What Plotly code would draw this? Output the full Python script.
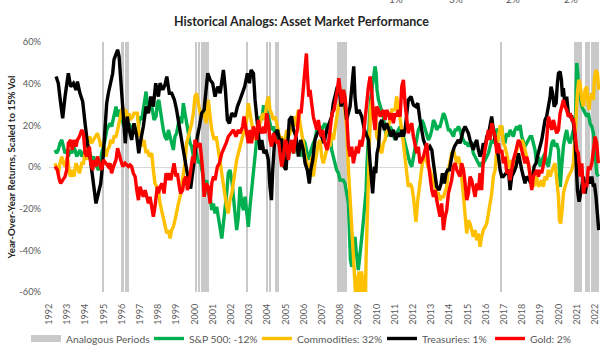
import numpy as np
import pandas as pd
import plotly.graph_objects as go

# ---------------- data (decimal years, % values) ----------------
tsy_years = [1992.39,1992.51,1992.64,1992.75,1992.88,1993.06,1993.19,1993.34,1993.48,1993.56,1993.70,1993.85,1993.98,
 1994.11,1994.25,1994.38,1994.49,1994.58,1994.71,1994.84,1994.95,1995.04,1995.17,1995.26,1995.39,1995.50,1995.57,1995.68,
 1995.77,1995.85,1995.94,1996.03,1996.12,1996.19,1996.30,1996.41,1996.54,1996.67,1996.82,1996.93,1997.04,1997.18,1997.33,
 1997.46,1997.59,1997.73,1997.86,1998.01,1998.10,1998.25,1998.37,1998.47,1998.61,1998.74,1998.89,1999.01,1999.16,1999.29,
 1999.42,1999.56,1999.69,1999.78,1999.89,2000.02,2000.15,2000.26,2000.39,2000.52,2000.63,2000.72,2000.85,2000.99,2001.12,
 2001.27,2001.40,2001.58,2001.69,2001.80,2001.91,2002.04,2002.22,2002.35,2002.49,2002.64,2002.75,2002.90,2003.01,2003.10,
 2003.23,2003.32,2003.41,2003.50,2003.59,2003.69,2003.81,2003.92,2004.05,2004.14,2004.22,2004.29,2004.42,2004.55,2004.66,
 2004.78,2004.91,2005.02,2005.11,2005.20,2005.33,2005.43,2005.57,2005.70,2005.83,2005.97,2006.07,2006.19,2006.30,2006.38,
 2006.49,2006.61,2006.74,2006.89,2006.98,2007.11,2007.26,2007.40,2007.53,2007.62,2007.77,2007.84,2007.95,2008.05,2008.17,
 2008.35,2008.54,2008.67,2008.74,2008.81,2008.90,2009.03,2009.18,2009.33,2009.45,2009.55,2009.64,2009.73,2009.78,2009.88,
 2009.95,2010.02,2010.10,2010.19,2010.28,2010.42,2010.55,2010.68,2010.79,2010.92,2011.05,2011.16,2011.29,2011.38,2011.47,
 2011.56,2011.65,2011.74,2011.89,2012.02,2012.15,2012.26,2012.38,2012.48,2012.57,2012.70,2012.81,2012.93,2013.03,2013.12,
 2013.21,2013.30,2013.43,2013.54,2013.61,2013.72,2013.81,2013.90,2014.00,2014.09,2014.16,2014.27,2014.40,2014.49,2014.58,
 2014.67,2014.77,2014.86,2014.95,2015.04,2015.13,2015.22,2015.31,2015.41,2015.50,2015.59,2015.68,2015.77,2015.86,2015.96,
 2016.05,2016.19,2016.32,2016.41,2016.56,2016.69,2016.78,2016.87,2016.96,2017.11,2017.24,2017.33,2017.42,2017.51,2017.66,
 2017.79,2017.88,2017.97,2018.06,2018.15,2018.24,2018.39,2018.46,2018.57,2018.65,2018.76,2018.83,2018.94,2019.07,2019.16,
 2019.25,2019.34,2019.44,2019.53,2019.58,2019.67,2019.75,2019.86,2019.93,2019.99,2020.08,2020.15,2020.21,2020.26,2020.35,
 2020.44,2020.53,2020.63,2020.72,2020.81,2020.90,2020.96,2021.03,2021.12,2021.18,2021.27,2021.36,2021.45,2021.54,2021.63,
 2021.72,2021.82,2021.91,2021.96,2022.05,2022.13,2022.20]
tsy_vals = [43.4,40.2,30.6,23.4,33.8,45.0,38.6,40.2,37.0,41.0,35.4,31.4,21.0,
 11.4,5.0,-4.6,-12.7,-17.5,-12.7,-7.9,1.8,13.0,30.6,35.4,41.8,45.0,51.5,53.9,
 56.3,53.1,41.8,30.6,17.8,11.4,24.2,17.8,13.0,21.0,14.6,6.6,13.0,19.4,29.0,
 25.8,33.8,29.0,40.2,33.8,40.2,37.0,39.4,43.4,35.4,35.4,32.2,27.4,19.4,13.0,
 5.0,-1.4,-7.9,-10.3,-3.0,6.6,14.6,19.4,25.8,27.4,38.6,45.0,41.8,40.2,33.8,
 38.6,35.4,46.6,37.0,22.6,21.0,25.8,24.2,29.0,32.2,35.4,38.6,45.0,40.2,46.6,
 45.0,32.2,24.2,14.6,8.2,13.0,6.6,8.2,3.4,-9.5,-15.9,-1.4,16.2,17.8,13.0,
 13.0,0.2,-1.4,13.0,22.6,24.2,17.8,14.6,5.0,13.0,8.2,1.8,-1.4,-7.9,-1.4,
 3.4,13.0,16.2,17.8,14.6,11.4,17.8,21.0,24.2,30.6,35.4,38.6,37.0,29.0,37.0,
 22.6,29.0,45.0,48.3,33.8,25.8,27.4,24.2,17.8,14.6,13.0,1.8,-9.5,-12.7,0.2,
 -3.0,6.6,9.8,21.0,22.6,17.8,21.0,17.8,14.6,17.8,13.0,16.2,14.6,17.8,14.6,
 17.8,24.2,32.2,33.8,29.8,29.0,30.6,22.6,17.8,13.0,9.8,8.2,9.8,8.2,1.8,
 -4.6,-9.5,-11.1,-7.9,-3.0,-7.9,-3.0,-1.4,-1.4,3.4,6.6,9.8,11.4,13.0,11.4,
 14.6,17.8,19.4,17.8,16.2,13.0,9.8,8.2,11.4,13.0,8.2,5.0,6.6,11.4,9.8,
 14.6,17.8,24.2,17.8,11.4,5.0,-1.4,-4.6,-4.6,-3.0,-1.4,-11.1,-4.6,-3.0,0.2,
 6.6,1.8,-1.4,-4.6,-7.9,-4.6,-6.3,-7.9,-4.6,0.2,1.8,5.0,8.2,13.0,17.8,
 22.6,24.2,29.0,33.8,38.6,35.4,29.0,30.6,40.2,45.0,45.8,41.8,33.8,37.8,29.0,
 33.8,25.8,24.2,24.2,21.0,13.0,-1.4,-11.1,-16.7,-14.3,-9.5,-4.6,-12.7,-7.9,-4.6,
 -7.9,-4.6,-9.5,-7.9,-14.3,-23.9,-30.3]

gold_years = [1992.33,1992.46,1992.57,1992.64,1992.75,1992.88,1992.97,1993.06,1993.19,1993.28,1993.37,1993.48,1993.56,
 1993.67,1993.80,1993.89,1993.98,1994.07,1994.22,1994.29,1994.40,1994.47,1994.58,1994.66,1994.77,1994.89,1994.99,1995.13,
 1995.26,1995.35,1995.44,1995.54,1995.68,1995.77,1995.86,1995.94,1996.05,1996.18,1996.27,1996.36,1996.45,1996.54,1996.63,
 1996.73,1996.82,1996.91,1997.00,1997.09,1997.18,1997.28,1997.37,1997.46,1997.55,1997.64,1997.73,1997.82,1997.95,1998.01,
 1998.10,1998.21,1998.32,1998.43,1998.52,1998.61,1998.69,1998.80,1998.87,1998.98,1999.05,1999.16,1999.23,1999.34,1999.42,
 1999.53,1999.60,1999.71,1999.78,1999.89,1999.97,2000.02,2000.15,2000.30,2000.44,2000.52,2000.63,2000.75,2000.85,2000.94,
 2001.03,2001.12,2001.25,2001.36,2001.49,2001.58,2001.73,2001.85,2001.98,2002.13,2002.27,2002.40,2002.49,2002.64,2002.71,
 2002.82,2002.95,2003.04,2003.13,2003.23,2003.32,2003.41,2003.50,2003.59,2003.69,2003.78,2003.87,2003.96,2004.05,2004.14,
 2004.23,2004.33,2004.42,2004.51,2004.60,2004.69,2004.78,2004.88,2004.97,2005.06,2005.15,2005.24,2005.33,2005.43,2005.52,
 2005.64,2005.75,2005.85,2005.94,2006.01,2006.07,2006.14,2006.19,2006.27,2006.34,2006.43,2006.52,2006.61,2006.71,2006.80,
 2006.93,2007.04,2007.11,2007.22,2007.29,2007.40,2007.48,2007.55,2007.66,2007.77,2007.84,2007.92,2008.08,2008.17,2008.26,
 2008.36,2008.45,2008.54,2008.63,2008.72,2008.81,2008.90,2008.99,2009.09,2009.18,2009.27,2009.36,2009.45,2009.55,2009.64,
 2009.73,2009.82,2009.91,2010.00,2010.10,2010.19,2010.28,2010.37,2010.46,2010.55,2010.64,2010.74,2010.83,2010.92,2011.01,
 2011.10,2011.19,2011.29,2011.38,2011.47,2011.56,2011.65,2011.74,2011.83,2011.93,2012.02,2012.11,2012.20,2012.29,2012.38,
 2012.48,2012.57,2012.66,2012.75,2012.84,2012.93,2013.03,2013.12,2013.21,2013.30,2013.39,2013.48,2013.57,2013.67,2013.76,
 2013.85,2013.94,2014.03,2014.12,2014.22,2014.31,2014.40,2014.49,2014.58,2014.67,2014.77,2014.86,2014.95,2015.04,2015.13,
 2015.22,2015.31,2015.41,2015.50,2015.59,2015.68,2015.77,2015.86,2015.96,2016.05,2016.14,2016.23,2016.32,2016.41,2016.51,
 2016.60,2016.69,2016.78,2016.87,2016.96,2017.05,2017.15,2017.24,2017.33,2017.42,2017.51,2017.66,2017.79,2017.88,2017.97,
 2018.06,2018.15,2018.24,2018.34,2018.43,2018.52,2018.61,2018.70,2018.79,2018.89,2018.98,2019.07,2019.16,2019.25,2019.34,
 2019.44,2019.53,2019.62,2019.71,2019.80,2019.89,2019.99,2020.08,2020.17,2020.26,2020.35,2020.44,2020.53,2020.63,2020.72,
 2020.81,2020.90,2020.99,2021.08,2021.18,2021.27,2021.36,2021.45,2021.54,2021.63,2021.72,2021.82,2021.91,2022.00,2022.09,
 2022.18]
gold_vals = [0.2,-1.4,-6.3,-7.9,-6.3,-4.6,-1.4,11.4,13.0,8.2,13.0,9.8,13.0,
 14.6,17.8,16.2,6.6,5.0,9.8,1.8,-1.4,3.4,0.2,5.0,1.8,-1.4,3.4,1.8,
 0.2,1.8,-3.0,0.2,3.4,9.0,5.0,3.4,0.2,1.8,1.0,0.2,1.0,0.2,-3.0,
 -4.6,-11.1,-15.9,-9.5,-12.7,-14.3,-11.1,-14.3,-17.5,-14.3,-20.7,-23.9,-19.1,-9.5,-12.7,
 -9.5,-7.9,-12.7,-3.0,-6.3,-3.0,-6.3,-1.4,1.8,-4.6,-3.0,-9.5,-12.7,-11.1,-6.3,
 -4.6,-11.1,-6.3,-1.4,5.0,1.8,13.0,9.8,11.4,-1.4,-14.3,-7.9,-9.5,-17.5,-7.9,
 -4.6,-6.3,0.2,1.8,6.6,8.2,11.4,14.6,16.2,17.8,14.6,17.8,16.2,19.4,24.2,
 17.8,11.4,17.8,11.4,19.4,17.8,13.0,22.6,17.8,16.2,19.4,16.2,25.8,21.0,13.0,
 9.8,16.2,13.0,11.4,13.0,5.0,0.2,5.0,13.0,11.4,3.4,9.8,13.0,6.6,13.0,
 17.8,27.4,25.8,33.8,40.2,46.6,54.5,45.0,33.8,37.0,29.0,24.2,21.0,17.8,22.6,
 14.6,17.8,13.0,9.8,8.2,14.6,19.4,25.8,27.4,32.2,37.0,42.6,30.6,37.0,33.8,
 24.2,9.8,5.0,9.8,1.8,5.0,9.8,6.6,13.0,9.8,14.6,22.6,32.2,38.6,43.4,
 37.0,24.2,17.8,29.0,27.4,24.2,25.8,27.4,22.6,27.4,25.8,22.6,25.8,21.0,25.8,
 24.2,27.4,24.2,38.6,41.8,30.6,24.2,16.2,19.4,21.0,14.6,9.8,6.6,9.8,1.8,
 3.4,5.0,8.2,11.4,1.8,-6.3,-11.1,-14.3,-11.1,-15.9,-20.7,-23.9,-17.5,-30.3,-23.9,
 -20.7,-12.7,-9.5,-6.3,0.2,1.8,-1.4,-3.0,-4.6,1.8,-1.4,-7.9,-15.9,-12.7,-4.6,
 -6.3,-11.1,-14.3,-7.9,-11.1,-3.0,-11.1,3.4,8.2,11.4,17.8,13.0,21.0,17.8,14.6,
 6.6,11.4,6.6,8.2,1.8,5.0,-3.0,-1.4,-6.3,-1.4,3.4,8.2,13.0,11.4,8.2,
 3.4,1.8,5.0,1.8,-4.6,-11.1,-4.6,-3.0,-1.4,-4.6,-1.4,-3.0,0.2,5.0,13.0,
 24.2,21.0,17.8,22.6,19.4,16.2,17.8,25.8,29.0,32.2,29.0,27.4,24.2,25.8,22.6,
 22.6,16.2,8.2,6.6,-4.6,1.8,-12.7,-7.9,-9.5,0.2,-1.4,1.8,8.2,14.6,11.4,
 1.8]

cmdty_years = [1992.33,1992.42,1992.51,1992.60,1992.70,1992.79,1992.88,1993.01,1993.12,1993.19,1993.28,1993.37,1993.48,
 1993.56,1993.67,1993.80,1993.89,1993.98,1994.07,1994.16,1994.25,1994.34,1994.44,1994.53,1994.66,1994.77,1994.84,1994.95,
 1995.02,1995.13,1995.21,1995.32,1995.39,1995.50,1995.57,1995.68,1995.77,1995.86,1995.96,1996.05,1996.12,1996.23,1996.30,
 1996.41,1996.45,1996.60,1996.67,1996.78,1996.85,1996.96,1997.04,1997.15,1997.22,1997.33,1997.40,1997.51,1997.64,1997.73,
 1997.82,1997.92,1998.01,1998.10,1998.19,1998.28,1998.37,1998.47,1998.56,1998.65,1998.74,1998.83,1998.92,1999.01,1999.11,
 1999.20,1999.29,1999.38,1999.47,1999.56,1999.66,1999.75,1999.84,1999.93,2000.02,2000.11,2000.21,2000.30,2000.39,2000.48,
 2000.63,2000.75,2000.85,2000.94,2001.07,2001.18,2001.30,2001.40,2001.49,2001.58,2001.67,2001.76,2001.85,2001.94,2002.04,
 2002.13,2002.22,2002.31,2002.40,2002.49,2002.59,2002.68,2002.77,2002.86,2002.95,2003.04,2003.13,2003.23,2003.32,2003.41,
 2003.50,2003.59,2003.69,2003.78,2003.87,2003.96,2004.05,2004.14,2004.23,2004.33,2004.42,2004.51,2004.60,2004.69,2004.78,
 2004.88,2004.97,2005.06,2005.15,2005.24,2005.33,2005.43,2005.52,2005.61,2005.70,2005.79,2005.88,2005.97,2006.07,2006.16,
 2006.25,2006.34,2006.43,2006.52,2006.61,2006.71,2006.80,2006.89,2006.98,2007.07,2007.16,2007.26,2007.35,2007.44,2007.53,
 2007.62,2007.71,2007.80,2007.90,2007.99,2008.08,2008.17,2008.26,2008.36,2008.45,2008.54,2008.63,2008.72,2008.81,2008.87,
 2008.90,2008.94,2008.98,2009.02,2009.06,2009.10,2009.14,2009.18,2009.22,2009.26,2009.30,2009.34,2009.38,2009.42,2009.49,
 2009.55,2009.60,2009.66,2009.73,2009.82,2009.91,2010.00,2010.10,2010.19,2010.28,2010.37,2010.46,2010.55,2010.64,2010.74,
 2010.83,2010.92,2011.01,2011.10,2011.19,2011.29,2011.38,2011.47,2011.56,2011.65,2011.74,2011.83,2011.93,2012.02,2012.11,
 2012.16,2012.26,2012.33,2012.44,2012.51,2012.62,2012.70,2012.81,2012.93,2013.03,2013.12,2013.21,2013.30,2013.39,2013.48,
 2013.57,2013.67,2013.76,2013.85,2013.94,2014.03,2014.12,2014.22,2014.31,2014.40,2014.49,2014.58,2014.67,2014.77,2014.86,
 2014.95,2015.04,2015.13,2015.22,2015.31,2015.41,2015.50,2015.59,2015.68,2015.77,2015.86,2015.96,2016.05,2016.14,2016.23,
 2016.32,2016.41,2016.51,2016.60,2016.69,2016.78,2016.87,2016.96,2017.05,2017.15,2017.24,2017.33,2017.42,2017.51,2017.60,
 2017.70,2017.79,2017.88,2017.97,2018.06,2018.15,2018.24,2018.34,2018.43,2018.52,2018.61,2018.70,2018.79,2018.89,2018.98,
 2019.07,2019.16,2019.25,2019.34,2019.44,2019.53,2019.62,2019.71,2019.80,2019.89,2019.99,2020.04,2020.11,2020.19,2020.26,
 2020.35,2020.44,2020.53,2020.63,2020.72,2020.81,2020.90,2020.96,2021.03,2021.10,2021.18,2021.27,2021.36,2021.45,2021.54,
 2021.60,2021.67,2021.72,2021.82,2021.91,2021.96,2022.04,2022.13,2022.20]
cmdty_vals = [1.8,-1.4,-3.0,1.8,5.0,1.8,0.2,5.0,-3.0,-4.6,-1.4,-4.6,1.8,
 0.2,-3.0,1.8,1.8,6.6,3.4,13.0,14.6,11.4,13.0,14.6,16.2,13.0,9.8,11.4,
 8.2,5.0,8.2,9.8,13.0,11.4,14.6,14.6,17.8,22.6,25.8,29.0,25.8,27.4,22.6,
 25.8,22.6,24.2,25.8,25.8,25.8,14.6,16.2,9.8,13.0,6.6,8.2,5.0,6.6,-1.4,
 -7.9,-9.5,-11.1,-17.5,-20.7,-23.9,-28.7,-31.9,-30.3,-34.3,-30.3,-28.7,-25.5,-20.7,-17.5,
 -14.3,-9.5,-4.6,1.8,11.4,14.6,17.8,21.0,25.8,33.8,35.4,29.0,25.8,24.2,27.4,
 21.0,32.2,24.2,17.8,13.0,14.6,8.2,1.8,-4.6,-7.9,-14.3,-19.1,-22.3,-15.9,-12.7,
 -6.3,-1.4,3.4,6.6,9.8,14.6,16.2,17.8,22.6,30.6,25.8,19.4,16.2,13.0,17.8,
 17.8,21.0,24.2,25.8,22.6,30.6,33.8,27.4,25.8,22.6,24.2,21.0,17.8,13.0,14.6,
 9.8,13.0,17.8,14.6,16.2,22.6,24.2,19.4,24.2,27.4,21.0,14.6,11.4,5.0,1.8,
 -1.4,-3.0,5.0,-4.6,1.8,8.2,11.4,13.0,5.0,1.8,5.0,8.2,11.4,9.8,16.2,
 13.0,17.8,24.2,29.0,30.6,33.8,37.0,27.4,17.8,-1.4,-14.3,-23.9,-36.7,-47.9,-55.9,
 -70.0,-52.0,-85.0,-50.0,-90.0,-55.0,-80.0,-50.0,-85.0,-52.0,-75.0,-55.0,-65.0,-43.1,-23.9,
 -6.3,13.0,27.4,32.2,25.8,29.0,14.6,13.0,8.2,6.6,11.4,13.0,17.8,19.4,22.6,
 27.4,27.4,27.4,33.8,29.0,24.2,17.8,11.4,5.0,-4.6,-9.5,-7.9,-9.5,-14.3,-23.9,
 -26.3,-15.9,-11.1,-4.6,1.8,5.0,5.0,0.2,-1.4,-4.6,-7.9,-9.5,-12.7,-12.7,-15.9,
 -14.3,-14.3,-11.1,-9.5,-1.4,3.4,6.6,8.2,5.0,1.8,5.0,1.8,-4.6,-15.9,-23.9,
 -31.9,-25.5,-27.1,-30.3,-33.5,-30.3,-35.1,-31.9,-38.3,-33.5,-30.3,-28.7,-27.1,-22.3,-17.5,
 -12.7,-4.6,-1.4,8.2,14.6,19.4,19.4,11.4,9.8,5.0,1.8,-1.4,3.4,-3.0,0.2,
 8.2,11.4,9.8,13.0,11.4,8.2,5.0,0.2,-3.0,-6.3,-9.5,-7.9,-4.6,-9.5,-7.9,
 -6.3,-9.5,-4.6,-6.3,-1.4,-4.6,-1.4,0.2,1.8,-4.6,-14.3,-25.5,-27.1,-20.7,-12.7,
 -9.5,-6.3,-4.6,-3.0,-1.4,1.8,14.6,29.0,35.4,41.8,40.2,32.2,29.0,37.0,38.6,
 32.2,27.4,32.2,35.4,32.2,41.8,46.6,45.0,37.0]

spx_years = [1992.33,1992.42,1992.51,1992.60,1992.70,1992.79,1992.88,1992.97,1993.06,1993.15,1993.25,1993.34,1993.43,
 1993.52,1993.61,1993.70,1993.80,1993.89,1993.98,1994.07,1994.16,1994.25,1994.34,1994.44,1994.53,1994.62,1994.71,1994.80,
 1994.89,1994.99,1995.08,1995.17,1995.26,1995.35,1995.44,1995.54,1995.63,1995.68,1995.75,1995.85,1995.94,1996.05,1996.12,
 1996.23,1996.30,1996.41,1996.49,1996.60,1996.73,1996.82,1996.91,1997.00,1997.09,1997.18,1997.28,1997.33,1997.40,1997.51,
 1997.59,1997.70,1997.77,1997.88,1997.95,1998.03,1998.10,1998.19,1998.28,1998.37,1998.47,1998.56,1998.65,1998.74,1998.83,
 1998.92,1999.01,1999.11,1999.20,1999.29,1999.38,1999.47,1999.56,1999.66,1999.75,1999.84,1999.93,2000.02,2000.11,2000.21,
 2000.30,2000.39,2000.48,2000.57,2000.66,2000.75,2000.85,2000.94,2001.03,2001.12,2001.21,2001.30,2001.40,2001.49,2001.58,
 2001.67,2001.76,2001.85,2001.94,2002.04,2002.13,2002.22,2002.31,2002.40,2002.49,2002.59,2002.68,2002.77,2002.86,2002.95,
 2003.04,2003.13,2003.23,2003.32,2003.41,2003.50,2003.59,2003.69,2003.78,2003.87,2003.96,2004.05,2004.14,2004.23,2004.33,
 2004.42,2004.51,2004.60,2004.69,2004.78,2004.88,2004.97,2005.06,2005.15,2005.24,2005.33,2005.43,2005.52,2005.61,2005.70,
 2005.79,2005.88,2005.97,2006.07,2006.16,2006.25,2006.34,2006.43,2006.52,2006.61,2006.71,2006.80,2006.89,2006.98,2007.07,
 2007.16,2007.26,2007.35,2007.44,2007.53,2007.62,2007.71,2007.80,2007.90,2007.99,2008.08,2008.17,2008.26,2008.36,2008.45,
 2008.50,2008.56,2008.63,2008.68,2008.74,2008.81,2008.87,2008.92,2008.99,2009.07,2009.14,2009.22,2009.29,2009.36,2009.42,
 2009.47,2009.53,2009.58,2009.64,2009.69,2009.77,2009.84,2009.91,2009.97,2010.02,2010.10,2010.19,2010.28,2010.37,2010.46,
 2010.55,2010.64,2010.74,2010.83,2010.92,2011.01,2011.10,2011.19,2011.29,2011.38,2011.47,2011.56,2011.65,2011.74,2011.83,
 2011.93,2012.02,2012.11,2012.20,2012.29,2012.38,2012.48,2012.57,2012.66,2012.75,2012.84,2012.93,2013.03,2013.12,2013.21,
 2013.30,2013.39,2013.48,2013.57,2013.67,2013.76,2013.85,2013.94,2014.03,2014.12,2014.22,2014.31,2014.40,2014.49,2014.58,
 2014.67,2014.77,2014.86,2014.95,2015.04,2015.13,2015.22,2015.31,2015.41,2015.50,2015.59,2015.68,2015.77,2015.86,2015.96,
 2016.05,2016.14,2016.23,2016.32,2016.41,2016.51,2016.60,2016.69,2016.78,2016.87,2016.96,2017.05,2017.15,2017.24,2017.33,
 2017.42,2017.51,2017.60,2017.70,2017.79,2017.88,2017.97,2018.06,2018.15,2018.24,2018.34,2018.43,2018.52,2018.61,2018.70,
 2018.79,2018.89,2018.98,2019.07,2019.16,2019.25,2019.34,2019.44,2019.53,2019.62,2019.71,2019.80,2019.89,2019.99,2020.04,
 2020.09,2020.15,2020.21,2020.26,2020.35,2020.44,2020.53,2020.63,2020.72,2020.81,2020.90,2020.99,2021.05,2021.10,2021.18,
 2021.27,2021.36,2021.45,2021.54,2021.63,2021.72,2021.82,2021.91,2022.00,2022.09,2022.18]
spx_vals = [8.2,6.6,8.2,11.4,13.0,9.8,6.6,8.2,5.0,8.2,6.6,9.8,8.2,
 5.0,6.6,8.2,5.0,6.6,8.2,6.6,8.2,6.6,3.4,5.0,1.8,0.2,-1.4,0.2,
 6.6,9.8,13.0,17.8,19.4,21.0,19.4,24.2,27.4,29.0,24.2,27.4,25.8,22.6,19.4,
 22.6,17.8,21.0,17.8,19.4,17.8,16.2,19.4,24.2,22.6,27.4,32.2,36.2,30.6,27.4,
 32.2,25.8,22.6,24.2,30.6,32.2,27.4,21.0,17.8,14.6,13.0,17.8,14.6,11.4,8.2,
 14.6,16.2,21.0,24.2,21.0,30.6,25.8,21.0,16.2,11.4,9.8,5.0,9.8,5.0,1.8,
 3.4,-1.4,-4.6,-9.5,-6.3,-12.7,-14.3,-20.7,-17.5,-22.3,-19.1,-23.9,-27.1,-34.3,-27.1,
 -20.7,-12.7,-3.0,-1.4,-6.3,-14.3,-19.1,-30.3,-23.9,-9.5,-17.5,-20.7,-14.3,-23.9,-28.7,
 -19.1,-11.1,-3.0,5.0,13.0,21.0,24.2,22.6,29.0,29.0,27.4,24.2,22.6,17.8,19.4,
 14.6,13.0,13.0,9.8,11.4,8.2,9.8,6.6,5.0,9.8,9.8,6.6,8.2,9.8,6.6,
 8.2,5.0,13.0,11.4,6.6,3.4,6.6,9.8,11.4,13.0,17.8,16.2,19.4,17.8,19.4,
 21.0,17.8,19.4,16.2,8.2,5.0,1.8,-1.4,-3.0,-6.3,-6.3,-6.3,-7.9,-12.7,-17.5,
 -30.3,-44.7,-47.9,-46.3,-36.7,-33.5,-39.9,-46.3,-49.5,-43.1,-35.1,-30.3,-23.9,-17.5,-11.1,
 1.8,14.6,24.2,29.0,33.8,40.2,45.0,48.3,45.0,37.0,32.2,29.0,27.4,24.2,17.8,
 14.6,16.2,19.4,17.8,14.6,13.0,16.2,17.8,19.4,17.8,14.6,11.4,6.6,5.0,1.8,
 0.2,5.0,9.8,13.0,17.8,19.4,22.6,21.0,17.8,14.6,13.0,14.6,17.8,22.6,21.0,
 17.8,19.4,19.4,22.6,25.8,24.2,21.0,17.8,17.8,16.2,14.6,17.8,17.8,19.4,17.8,
 14.6,13.0,11.4,11.4,9.8,11.4,11.4,6.6,5.0,3.4,1.8,0.2,1.8,1.8,3.4,
 5.0,6.6,9.8,13.0,11.4,14.6,17.8,17.8,16.2,19.4,13.0,11.4,16.2,14.6,17.8,
 16.2,14.6,17.8,19.4,17.8,20.2,14.6,11.4,9.8,11.4,13.0,14.6,14.6,11.4,8.2,
 1.8,5.0,0.2,3.4,5.0,6.6,1.8,0.2,6.6,11.4,13.0,9.8,11.4,8.2,-1.4,
 -9.5,-1.4,5.0,9.8,14.6,17.8,13.0,11.4,14.6,17.8,13.0,49.9,45.0,37.0,33.8,
 29.0,27.4,25.8,24.2,25.8,21.0,19.4,16.2,6.6,-3.0,-4.6]

analog_months = ["1995-01", "1996-01", "1996-02", "1996-04", "1996-05", "2000-02", "2000-04",
                 "2000-06", "2000-07", "2000-08", "2000-09", "2000-10", "2002-12", "2004-01", "2004-03",
                 "2004-07", "2004-08", "2007-12", "2008-01", "2008-02", "2008-03", "2008-04", "2008-05",
                 "2016-11", "2020-12", "2021-01", "2021-02", "2021-03", "2021-04", "2021-07", "2021-08",
                 "2021-09", "2021-11", "2021-12", "2022-01", "2022-02", "2022-03"]

series_names = ["S&P 500: -12%", "Commodities: 32%", "Treasuries: 1%", "Gold: 2%"]
series_colors = ["#00B050", "#FFC000", "#000000", "#FF0000"]
year_ticks = list(range(1992, 2023))
y_tick_vals = [-60, -40, -20, 0, 20, 40, 60]
y_tick_text = ["-60%", "-40%", "-20%", "0%", "20%", "40%", "60%"]
top_cut_text = ["1%", "3%", "2%", "2%"]


def to_dates(years):
    out = []
    for y in years:
        yi = int(np.floor(y))
        frac = y - yi
        a = pd.Timestamp(year=yi, month=1, day=1)
        b = pd.Timestamp(year=yi + 1, month=1, day=1)
        out.append(a + (b - a) * frac)
    return out


Y_MIN, Y_MAX = -60, 60
GRAY = "#C9C9C9"
FONT = "Lato"
PLOT_L, PLOT_R, PLOT_T, PLOT_B = 49, 600, 42, 292
PW, PH = PLOT_R - PLOT_L, PLOT_B - PLOT_T


def px_x(p):
    return (p - PLOT_L) / PW


def px_y(p):
    return (PLOT_B - p) / PH


fig = go.Figure()

# analogous periods as full-height monthly columns
bar_x = [pd.Timestamp(m + "-01") for m in analog_months]
fig.add_trace(go.Bar(
    x=bar_x, y=[Y_MAX - Y_MIN] * len(bar_x), base=Y_MIN,
    width=30 * 24 * 3600 * 1000, marker=dict(color=GRAY, line=dict(width=0)),
    showlegend=False, hoverinfo="skip"))

legend_ids = ["legend", "legend2", "legend3", "legend4", "legend5"]
legend_text_px = [66, 189, 297, 422, 530]   # where each legend label starts

# legend swatch for the periods
fig.add_trace(go.Scatter(x=[None], y=[None], mode="lines", name="Analogous Periods",
                         line=dict(color=GRAY, width=7), legend=legend_ids[0]))

for i, (yrs, vals) in enumerate([(spx_years, spx_vals), (cmdty_years, cmdty_vals),
                                 (tsy_years, tsy_vals), (gold_years, gold_vals)]):
    fig.add_trace(go.Scatter(x=to_dates(yrs), y=vals, mode="lines", name=series_names[i],
                             line=dict(color=series_colors[i], width=3.4),
                             legend=legend_ids[i + 1]))

x_left = to_dates([1992.0])[0]
x_right = to_dates([2022.27])[0]

legend_common = dict(orientation="h", xanchor="left", y=px_y(338.5), yanchor="middle",
                     font=dict(family=FONT, size=10.3, color="#595959"),
                     bgcolor="rgba(0,0,0,0)", itemwidth=30)
legends = {lid: dict(legend_common, x=px_x(tx - 40)) for lid, tx in zip(legend_ids, legend_text_px)}

fig.update_layout(
    width=614, height=356,
    margin=dict(l=PLOT_L, r=614 - PLOT_R, t=PLOT_T, b=356 - PLOT_B, autoexpand=False),
    paper_bgcolor="white", plot_bgcolor="white",
    font=dict(family=FONT, size=10, color="#595959"),
    bargap=0,
    title=dict(text="<b>Historical Analogs: Asset Market Performance</b>",
               x=0.491, xanchor="center", y=1 - 22 / 356, yanchor="middle",
               font=dict(family=FONT, size=12.5, color="#262626")),
    xaxis=dict(type="date", range=[x_left, x_right],
               tickvals=[pd.Timestamp(year=y, month=1, day=1) for y in year_ticks],
               ticktext=[str(y) for y in year_ticks], tickangle=-90,
               showgrid=False, showline=False, zeroline=False, ticks="",
               ticklabelstandoff=9, tickfont=dict(size=9, color="#595959")),
    yaxis=dict(range=[Y_MIN, Y_MAX], tickvals=y_tick_vals, ticktext=y_tick_text,
               showgrid=False, showline=False, ticks="",
               zeroline=True, zerolinecolor="#D9D9D9", zerolinewidth=1,
               ticklabelstandoff=7, tickfont=dict(size=9.3, color="#595959"),
               title=dict(text="<b>Year-Over-Year Returns, Scaled to 15% Vol</b>",
                          font=dict(size=9.7, color="#262626"), standoff=1)),
    **legends,
)

for txt, xp in zip(top_cut_text, [405, 465, 522, 580]):
    fig.add_annotation(text=txt, xref="paper", yref="paper",
                       x=px_x(xp), y=px_y(7), xanchor="right", yanchor="bottom",
                       showarrow=False, font=dict(size=10, color="#595959"))

fig.write_html("out.html", config={"displayModeBar": False},
               post_script="document.body.style.margin='0';document.body.style.overflow='hidden';")
